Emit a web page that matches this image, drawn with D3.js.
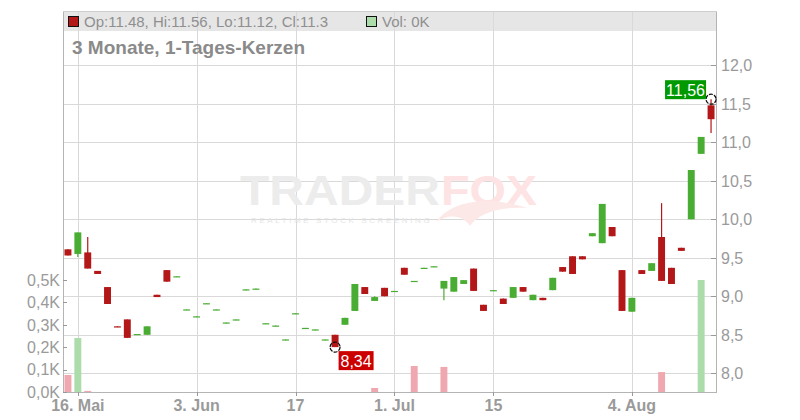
<!DOCTYPE html>
<html><head><meta charset="utf-8">
<script src="https://cdn.jsdelivr.net/npm/d3@7/dist/d3.min.js"></script>
<style>
html,body{margin:0;padding:0;background:#fff;}
svg{display:block;font-family:"Liberation Sans",Arial,sans-serif;}
</style></head>
<body><svg id="c" width="800" height="420"></svg>
<script>
// ---- data ----
const dates = ["15.05","16.05","19.05","20.05","21.05","22.05","23.05","26.05","27.05","28.05","29.05","30.05",
"02.06","03.06","04.06","05.06","06.06","09.06","10.06","11.06","12.06","13.06","16.06","17.06","18.06","19.06","20.06",
"23.06","24.06","25.06","26.06","27.06","30.06","01.07","02.07","03.07","04.07","07.07","08.07","09.07","10.07","11.07",
"14.07","15.07","16.07","17.07","18.07","21.07","22.07","23.07","24.07","25.07","28.07","29.07","30.07","31.07","01.08",
"04.08","05.08","06.08","07.08","08.08","11.08","12.08","13.08","14.08"];
const opens = [9.61,9.55,9.57,9.33,9.12,8.61,8.70,8.50,8.50,9.02,9.34,9.25,
8.82,8.73,8.90,8.82,8.65,8.69,9.08,9.09,8.64,8.61,8.43,8.77,8.58,8.56,8.43,
8.50,8.63,8.81,9.12,8.94,9.11,9.06,9.37,9.19,9.36,9.38,9.10,9.06,9.16,9.36,
8.89,9.07,8.97,8.98,9.12,8.95,8.98,9.08,9.38,9.52,9.52,9.78,9.69,9.90,9.34,
8.80,9.34,9.33,9.77,9.37,9.63,10.00,10.85,11.48];
const closes = [9.53,9.83,9.36,9.29,8.90,8.60,8.46,8.51,8.61,8.99,9.19,9.26,
8.83,8.74,8.91,8.83,8.66,8.70,9.09,9.10,8.65,8.62,8.44,8.78,8.59,8.57,8.44,
8.34,8.72,9.16,9.03,8.99,9.00,9.07,9.28,9.20,9.37,9.39,9.20,9.25,9.21,9.07,
8.81,9.08,8.90,9.12,9.06,9.02,8.95,9.24,9.32,9.29,9.48,9.82,10.20,9.78,8.81,
8.98,9.29,9.43,9.20,9.16,9.59,10.64,11.07,11.30];
const highs = [9.61,9.83,9.77,9.33,9.12,8.61,8.70,8.51,8.61,9.02,9.34,9.26,
8.83,8.74,8.91,8.83,8.66,8.70,9.09,9.10,8.65,8.62,8.44,8.78,8.59,8.57,8.44,
8.50,8.72,9.16,9.12,9.00,9.11,9.07,9.37,9.20,9.37,9.39,9.20,9.25,9.21,9.36,
8.89,9.08,8.97,9.12,9.12,9.02,8.98,9.24,9.38,9.52,9.52,9.82,10.20,9.90,9.34,
8.98,9.34,9.43,10.21,9.37,9.63,10.64,11.07,11.56];
const lows = [9.53,9.51,9.36,9.29,8.90,8.60,8.46,8.50,8.50,8.99,9.19,9.25,
8.82,8.73,8.90,8.82,8.65,8.69,9.08,9.09,8.64,8.61,8.43,8.77,8.58,8.56,8.43,
8.34,8.63,8.81,9.03,8.94,9.00,9.06,9.28,9.19,9.36,9.38,8.95,9.06,9.16,9.07,
8.81,9.07,8.90,8.98,9.06,8.95,8.95,9.08,9.32,9.29,9.48,9.78,9.69,9.78,8.81,
8.80,9.29,9.33,9.20,9.16,9.59,10.00,10.85,11.12];
const volumes = [76,241,5,0,0,0,0,0,0,0,0,0,
0,0,0,0,0,0,0,0,0,0,0,0,0,0,0,
0,0,0,0,18,0,0,0,116,0,0,112,0,0,0,
0,0,0,0,0,0,0,0,0,0,0,0,0,0,0,
0,0,0,89,0,0,0,500,0];
const dateTicks = ["16.05","03.06","17.06","01.07","15.07","04.08"];
const dateTickLabels = ["16. Mai","3. Jun","17","1. Jul","15","4. Aug"];
const priceTicks = [8.0,8.5,9.0,9.5,10.0,10.5,11.0,11.5,12.0];
const volTicks = [0,100,200,300,400,500];
const title = "3 Monate, 1-Tages-Kerzen";
const markHigh = {date:"14.08", value:11.56};
const markLow = {date:"23.06", value:8.34};

// ---- layout ----
const L = 63, R = 716, B = 392, T = 11;
const RED = "#b31717", GREEN = "#4aad33", PINK = "#f0a8b0", LGREEN = "#acdcaa";
const GRID = "#d9d9d9", AXIS = "#b4b4b4", TXT = "#9a9a9a";

const svg = d3.select("#c");
const loc = d3.formatLocale({decimal:",", thousands:".", grouping:[3], currency:["","€"]});
const f1 = loc.format(".1f"), f2 = loc.format(".2f");

const x = d3.scaleBand().domain(dates).range([L, R]).paddingInner(0.3).paddingOuter(0.15);
const cx = d => x(d) + x.bandwidth()/2;
const y = d3.scaleLinear().domain([8, 12]).range([373.3, 65.3]);
const yv = d3.scaleLinear().domain([0, 500]).range([B, 280]);

// legend band
svg.append("rect").attr("x", L).attr("y", T).attr("width", R-L).attr("height", 20).attr("fill", "#e6e6e6");

// gridlines
svg.append("g").selectAll("line").data(priceTicks).join("line")
  .attr("x1", L).attr("x2", R).attr("y1", d => Math.round(y(d))+0.5).attr("y2", d => Math.round(y(d))+0.5)
  .attr("stroke", GRID).attr("stroke-width", 1);
svg.append("g").selectAll("line").data(dateTicks).join("line")
  .attr("x1", d => Math.round(cx(d))+0.5).attr("x2", d => Math.round(cx(d))+0.5).attr("y1", T).attr("y2", B)
  .attr("stroke", GRID).attr("stroke-width", 1);

// watermark
const wm = svg.append("g").attr("font-weight", "bold");
wm.append("text").attr("x", 240).attr("y", 205).attr("font-size", 42).attr("fill", "#ececec")
  .attr("textLength", 200).attr("lengthAdjust", "spacingAndGlyphs").text("TRADER");
wm.append("text").attr("x", 441).attr("y", 205).attr("font-size", 42).attr("fill", "#fde3e3")
  .attr("textLength", 96).attr("lengthAdjust", "spacingAndGlyphs").text("FOX");
wm.append("path").attr("d", "M436,222 C452,200 488,196 528,208 C500,206 478,214 470,226 C462,214 448,214 436,222 Z")
  .attr("fill", "#fde8e8");
wm.append("text").attr("x", 251).attr("y", 223).attr("font-size", 8).attr("font-weight", "normal")
  .attr("fill", "#e4e4e4").attr("letter-spacing", 2.6).text("REALTIME STOCK SCREENING");

// data rows
const rows = dates.map((d, i) => ({d, o: opens[i], c: closes[i], h: highs[i], l: lows[i], v: volumes[i],
  pc: i > 0 ? closes[i-1] : opens[i]}));

// volume bars
svg.append("g").selectAll("rect").data(rows.filter(r => r.v > 0)).join("rect")
  .attr("x", r => x(r.d)).attr("width", x.bandwidth())
  .attr("y", r => yv(r.v)).attr("height", r => B - yv(r.v))
  .attr("fill", r => r.c >= r.pc ? LGREEN : PINK);

// candles
const cg = svg.append("g");
cg.selectAll("line").data(rows).join("line")
  .attr("x1", r => cx(r.d)).attr("x2", r => cx(r.d))
  .attr("y1", r => y(r.h)).attr("y2", r => y(r.l))
  .attr("stroke", r => r.c >= r.o ? GREEN : RED).attr("stroke-width", 1.2);
cg.selectAll("rect").data(rows).join("rect")
  .attr("x", r => x(r.d)).attr("width", x.bandwidth())
  .attr("y", r => y(Math.max(r.o, r.c)))
  .attr("height", r => Math.max(1.2, Math.abs(y(r.o) - y(r.c))))
  .attr("fill", r => r.c >= r.o ? GREEN : RED);

// axes lines
svg.append("line").attr("x1", L+0.5).attr("x2", L+0.5).attr("y1", T).attr("y2", B).attr("stroke", AXIS);
svg.append("line").attr("x1", R+0.5).attr("x2", R+0.5).attr("y1", T).attr("y2", B).attr("stroke", AXIS);
svg.append("line").attr("x1", L).attr("x2", R+1).attr("y1", B+0.5).attr("y2", B+0.5).attr("stroke", AXIS);
svg.append("line").attr("x1", L).attr("x2", R+1).attr("y1", T+0.5).attr("y2", T+0.5).attr("stroke", "#cfcfcf");

// right price axis
const ra = svg.append("g");
ra.selectAll("line").data(priceTicks).join("line")
  .attr("x1", R-5).attr("x2", R).attr("y1", d => Math.round(y(d))+0.5).attr("y2", d => Math.round(y(d))+0.5)
  .attr("stroke", "#999");
ra.selectAll("text").data(priceTicks).join("text")
  .attr("x", R+5).attr("y", d => y(d)).attr("dy", "0.36em")
  .attr("font-size", 16).attr("fill", TXT).text(d => f1(d));

// left volume axis
const la = svg.append("g");
la.selectAll("line").data(volTicks).join("line")
  .attr("x1", L).attr("x2", L+4).attr("y1", d => Math.round(yv(d))+0.5).attr("y2", d => Math.round(yv(d))+0.5)
  .attr("stroke", "#999");
la.selectAll("text").data(volTicks).join("text")
  .attr("x", L-3).attr("y", d => yv(d)).attr("dy", "0.36em").attr("text-anchor", "end")
  .attr("font-size", 16).attr("fill", TXT).text(d => f1(d/1000) + "K");

// bottom date axis
const ba = svg.append("g");
ba.selectAll("line").data(dateTicks).join("line")
  .attr("x1", d => Math.round(cx(d))+0.5).attr("x2", d => Math.round(cx(d))+0.5).attr("y1", B).attr("y2", B+4)
  .attr("stroke", "#999");
ba.selectAll("text").data(dateTicks).join("text")
  .attr("x", d => cx(d)).attr("y", 411).attr("text-anchor", "middle")
  .attr("font-size", 16).attr("font-weight", "bold").attr("fill", TXT)
  .text((d, i) => dateTickLabels[i]);

// legend
const last = rows[rows.length - 1];
svg.append("rect").attr("x", 68.5).attr("y", 16.5).attr("width", 10).attr("height", 10)
  .attr("fill", last.c >= last.o ? GREEN : RED).attr("stroke", "#111");
svg.append("text").attr("x", 84).attr("y", 27).attr("font-size", 15).attr("fill", "#8f8f8f")
  .text(`Op:${last.o}, Hi:${last.h}, Lo:${last.l}, Cl:${last.c}`);
svg.append("rect").attr("x", 366.5).attr("y", 16.5).attr("width", 10).attr("height", 10)
  .attr("fill", LGREEN).attr("stroke", "#111");
svg.append("text").attr("x", 382).attr("y", 27).attr("font-size", 15).attr("fill", "#8f8f8f")
  .text(`Vol: ${last.v}K`);

// title
svg.append("text").attr("x", 72).attr("y", 54).attr("font-size", 19).attr("font-weight", "bold")
  .attr("fill", "#8a8a8a").text(title);

// high / low markers
function marker(m, color, boxDx, boxDy, boxW) {
  const px = cx(m.date), py = y(m.value);
  svg.append("circle").attr("cx", px).attr("cy", py).attr("r", 5)
    .attr("fill", "none").attr("stroke", "#111").attr("stroke-width", 1.3).attr("stroke-dasharray", "4,1.2");
  svg.append("rect").attr("x", px + boxDx).attr("y", py + boxDy).attr("width", boxW).attr("height", 19).attr("fill", color);
  svg.append("text").attr("x", px + boxDx + boxW/2).attr("y", py + boxDy + 15.5).attr("text-anchor", "middle")
    .attr("font-size", 16).attr("fill", "#fff").text(f2(m.value));
}
marker(markHigh, "#009900", -46, -19, 41);
marker(markLow, "#cc0000", 3.5, 4, 35);
</script></body></html>
